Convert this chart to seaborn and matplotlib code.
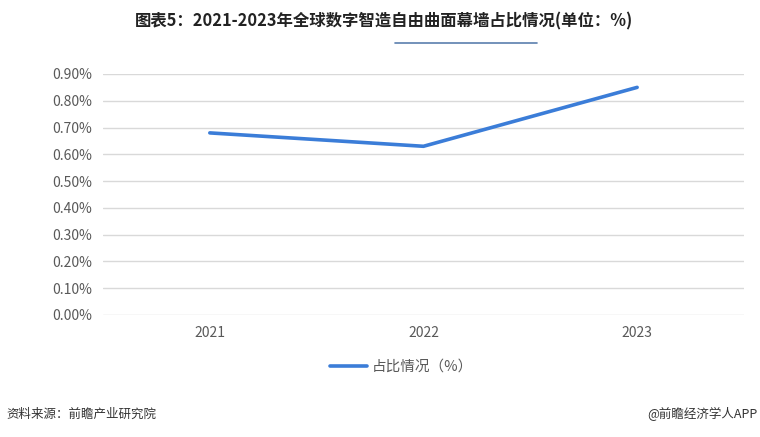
import matplotlib
matplotlib.use("Agg")
import matplotlib.pyplot as plt
import seaborn as sns
import pandas as pd
from matplotlib.lines import Line2D
from matplotlib.ticker import FuncFormatter

years = ["2021", "2022", "2023"]
share = [0.68, 0.63, 0.85]
y_ticks = [0.0, 0.1, 0.2, 0.3, 0.4, 0.5, 0.6, 0.7, 0.8, 0.9]
series_name = "占比情况（%）"

sns.set_theme(style="white")
plt.rcParams['font.family'] = ['Noto Sans CJK SC', 'DejaVu Sans']

df = pd.DataFrame({"year": years, "share": share})

fig = plt.figure(figsize=(7.6, 4.37), dpi=100)
ax = fig.add_axes([0.1355, 0.2792, 0.8434, 0.5515])

line_color = "#3b7dd8"
sns.lineplot(data=df, x="year", y="share", ax=ax, color=line_color, linewidth=2.6,
             sort=False, solid_capstyle="round")

ax.set_xlim(-0.5, 2.5)
ax.set_ylim(0, 0.9)
ax.set_yticks(y_ticks)
ax.yaxis.set_major_formatter(FuncFormatter(lambda v, p: f"{v:.2f}%"))
ax.grid(axis="y", color="#d9d9d9", linewidth=1)
ax.set_axisbelow(True)
for s in ax.spines.values():
    s.set_visible(False)
ax.tick_params(axis="both", length=0, labelsize=10, labelcolor="#595959")
ax.tick_params(axis="y", pad=8)
ax.tick_params(axis="x", pad=8)
ax.set_xlabel("")
ax.set_ylabel("")

# title and decoration
fig.text(0.505, 1 - 21 / 437, "图表5：2021-2023年全球数字智造自由曲面幕墙占比情况(单位：%)",
         ha="center", va="center", fontsize=11.8, fontweight="bold", color="#222222")
fig.add_artist(Line2D([395 / 760, 537 / 760], [1 - 43 / 437, 1 - 43 / 437],
                      color="#5b7fae", linewidth=1.2))

# legend
handle = Line2D([], [], color=line_color, linewidth=2.6)
fig.legend([handle], [series_name], loc="center", bbox_to_anchor=(0.528, 1 - 367 / 437),
           frameon=False, fontsize=10.5, labelcolor="#595959", handlelength=2.6,
           handletextpad=0.3)

# footer
fig.text(0.008, 1 - 414 / 437, "资料来源：前瞻产业研究院", ha="left", va="center",
         fontsize=9, color="#333333")
fig.text(0.997, 1 - 414 / 437, "@前瞻经济学人APP", ha="right", va="center",
         fontsize=9, color="#333333")

fig.savefig("out.png", dpi=100)
